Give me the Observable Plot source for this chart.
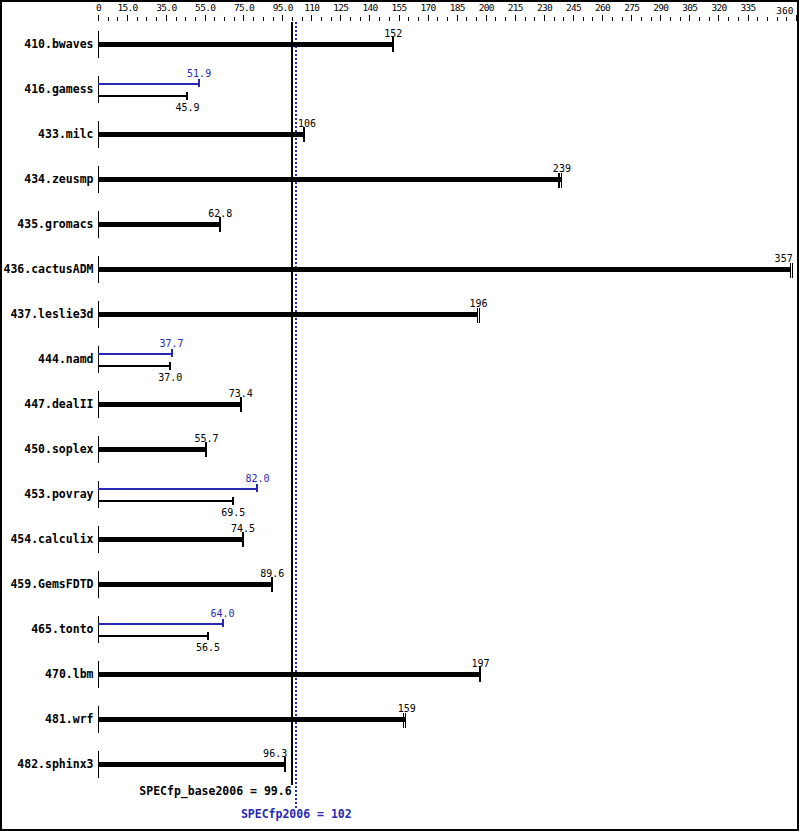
<!DOCTYPE html>
<html><head><meta charset="utf-8">
<script src="https://cdn.jsdelivr.net/npm/d3@7"></script>
<script src="https://cdn.jsdelivr.net/npm/@observablehq/plot@0.6"></script>
<style>
body{margin:0;background:#fff}
#chart svg{display:block}
#chart svg g[aria-label="y-axis tick label"] text{font-weight:bold;font-size:11.5px}
#chart svg g[aria-label="x-axis tick label"] text{font-size:9.5px;letter-spacing:-0.7px}
</style></head><body><div id="chart"></div>
<script>
const benchmarks = ["410.bwaves","416.gamess","433.milc","434.zeusmp","435.gromacs","436.cactusADM","437.leslie3d","444.namd","447.dealII","450.soplex","453.povray","454.calculix","459.GemsFDTD","465.tonto","470.lbm","481.wrf","482.sphinx3"];
const baseScores = [152,45.9,106,239,62.8,357,196,37.0,73.4,55.7,69.5,74.5,89.6,56.5,197,159,96.3];
const peakScores = [null,51.9,null,null,null,null,null,37.7,null,null,82.0,null,null,64.0,null,null,null];
const baseRuns = [[152],[45.9],[106],[237,238,239],[62.8],[356.7,357.7],[195.3,196.6],[37.0],[73.4],[55.7],[69.5],[74.5],[89.6],[56.5],[197],[157.2,158.5],[96.3]];
const xTickLabels = [0,15,35,55,75,95,110,125,140,155,170,185,200,215,230,245,260,275,290,305,320,335,360];
const xMinorStep = 5;
const xMax = 360;
const specBase = 99.6;
const specPeak = 102;
const baseLabel = "SPECfp_base2006";
const peakLabel = "SPECfp2006";

const BLUE = "#2828b4";
const rows = benchmarks.map((name, i) => ({name, base: baseScores[i], peak: peakScores[i], runs: baseRuns[i]}));
const single = rows.filter(d => d.peak == null);
const dbl = rows.filter(d => d.peak != null);
const singleTicks = single.flatMap(d => d.runs.map(v => ({name: d.name, v, multi: d.runs.length > 1})));
const fmt = v => v >= 100 ? String(Math.round(v)) : v.toFixed(1);
const fmtAxis = v => v === 0 ? "0" : v >= 100 ? String(v) : v.toFixed(1);
const halfW = 6;
function anchorFor(v) {
  if (v > xMax - halfW) return "end";
  if (v < specBase && v > specBase - halfW) return "end";
  if (v > specPeak && v < specPeak + halfW) return "start";
  return "middle";
}
const lblMid = single.filter(d => anchorFor(d.base) === "middle");
const lblEnd = single.filter(d => anchorFor(d.base) === "end");
const lblStart = single.filter(d => anchorFor(d.base) === "start");
const minorTicks = d3.range(0, xMax + 1, xMinorStep);

const mono = "DejaVu Sans Mono";
const crisp = "crispEdges";
const plot = Plot.plot({
  width: 799,
  height: 831,
  marginLeft: 98,
  marginRight: 3,
  marginTop: 20,
  marginBottom: 0,
  style: {fontFamily: mono, fontSize: "10px", background: "#fff", color: "#000"},
  x: {domain: [0, xMax]},
  y: {type: "band", domain: benchmarks, range: [21.5, 786.5], padding: 0, round: false},
  marks: [
    Plot.axisX({anchor: "top", ticks: minorTicks, tickSize: 4, tickFormat: () => "", label: null, shapeRendering: crisp}),
    Plot.axisX({anchor: "top", ticks: xTickLabels, tickSize: 6, tickPadding: 3.5, tickFormat: d => d === xMax ? "" : fmtAxis(d), label: null, shapeRendering: crisp}),
    Plot.text([xMax], {x: d => d, frameAnchor: "top", text: d => fmtAxis(d), textAnchor: "end", dy: -13.5, dx: -3, fontSize: 9.5, style: "letter-spacing:-0.7px"}),
    Plot.axisY({tickSize: 0, tickPadding: 5, label: null}),
    Plot.tickX(rows, {x: 0, y: "name", insetTop: 9, insetBottom: 9, stroke: "#000", strokeWidth: 1, shapeRendering: crisp}),
    Plot.ruleX([specBase], {x: d => d, insetTop: 2, insetBottom: 46, stroke: "#000", strokeWidth: 2, shapeRendering: crisp}),
    Plot.ruleX([specPeak], {x: d => d, insetTop: 2, insetBottom: 23, stroke: BLUE, strokeWidth: 2, strokeDasharray: "2,2", shapeRendering: crisp}),
    Plot.ruleY(single, {y: "name", x1: 0, x2: "base", stroke: "#000", strokeWidth: 5, shapeRendering: crisp}),
    Plot.tickX(singleTicks.filter(d => !d.multi), {x: "v", y: "name", insetTop: 15, insetBottom: 15, stroke: "#000", strokeWidth: 2, shapeRendering: crisp}),
    Plot.tickX(singleTicks.filter(d => d.multi), {x: "v", y: "name", insetTop: 16, insetBottom: 14, stroke: "#000", strokeWidth: 1, shapeRendering: crisp}),
    Plot.ruleY(dbl, {y: "name", x1: 0, x2: "peak", stroke: BLUE, strokeWidth: 2, dy: -6, shapeRendering: crisp}),
    Plot.tickX(dbl, {x: "peak", y: "name", insetTop: 12.5, insetBottom: 24.5, stroke: BLUE, strokeWidth: 2, shapeRendering: crisp}),
    Plot.ruleY(dbl, {y: "name", x1: 0, x2: "base", stroke: "#000", strokeWidth: 2, dy: 6, shapeRendering: crisp}),
    Plot.tickX(dbl, {x: "base", y: "name", insetTop: 25.5, insetBottom: 11.5, stroke: "#000", strokeWidth: 2, shapeRendering: crisp}),
    Plot.text(dbl, {x: "peak", y: "name", text: d => fmt(d.peak), dy: -16, fill: BLUE, fontSize: 10}),
    Plot.text(dbl, {x: "base", y: "name", text: d => fmt(d.base), dy: 18, fill: "#000", fontSize: 10}),
    Plot.text(lblMid, {x: "base", y: "name", text: d => fmt(d.base), dy: -11, fill: "#000", fontSize: 10}),
    Plot.text(lblEnd, {x: "base", y: "name", text: d => fmt(d.base), dy: -11, dx: 2, textAnchor: "end", fill: "#000", fontSize: 10}),
    Plot.text(lblStart, {x: "base", y: "name", text: d => fmt(d.base), dy: -11, dx: -6, textAnchor: "start", fill: "#000", fontSize: 10}),
    Plot.text([specBase], {x: d => d, frameAnchor: "bottom", text: d => `${baseLabel} = ${d}`, textAnchor: "end", dy: -37, fontWeight: "bold", fontSize: 11.5, fill: "#000"}),
    Plot.text([specPeak], {x: d => d, frameAnchor: "bottom", text: d => `${peakLabel} = ${d}`, textAnchor: "middle", dy: -14, fontWeight: "bold", fontSize: 11.5, fill: BLUE})
  ]
});
d3.select(plot).append("rect")
  .attr("x", 1).attr("y", 1).attr("width", 797).attr("height", 829)
  .attr("fill", "none").attr("stroke", "#000").attr("stroke-width", 2)
  .attr("shape-rendering", crisp);
document.getElementById("chart").appendChild(plot);
</script></body></html>
